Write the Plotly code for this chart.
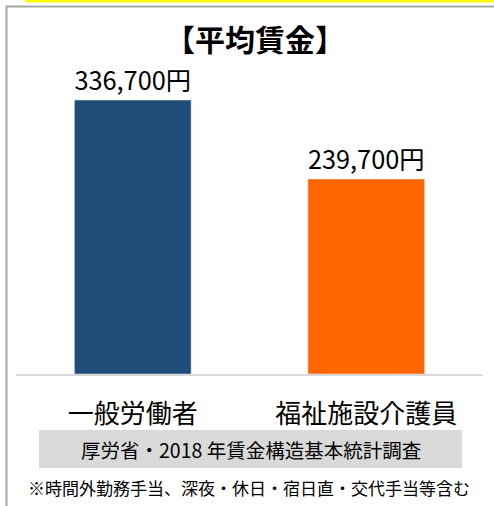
import plotly.graph_objects as go

categories = ["一般労働者", "福祉施設介護員"]
wages = [336700, 239700]
bar_colors = ["#1F4E79", "#FF6600"]
title_text = "【平均賃金】"
source_text = "厚労省・2018 年賃金構造基本統計調査"
note_text = "※時間外勤務手当、深夜・休日・宿日直・交代手当等含む"

W, H = 494, 506
FONT = "Noto Sans CJK JP"

def px(x):
    return x / W

def py(y):
    return 1 - y / H

labels = [f"{v:,}円" for v in wages]

fig = go.Figure(go.Bar(
    x=categories, y=wages, marker_color=bar_colors,
    text=labels, textposition="outside", cliponaxis=False,
    textfont=dict(size=26, color="#000000", family=FONT),
    width=0.5,
))

fig.update_layout(
    width=W, height=H,
    margin=dict(l=0, r=0, t=0, b=0),
    paper_bgcolor="white", plot_bgcolor="white",
    showlegend=False,
    font=dict(family=FONT, color="#000000"),
    xaxis=dict(domain=[px(16), px(483)], range=[-0.5, 1.5],
               showline=True, linecolor="#D9D9D9", linewidth=2,
               tickfont=dict(size=26, family=FONT, color="#000000"),
               ticklabelstandoff=16, showgrid=False, zeroline=False),
    yaxis=dict(domain=[py(374), py(60)], range=[0, 385850],
               visible=False, showgrid=False, zeroline=False),
    shapes=[
        dict(type="rect", xref="paper", yref="paper", x0=px(25), x1=px(494),
             y0=py(0), y1=py(2.5), fillcolor="#FFFF00", line=dict(width=0)),
        dict(type="line", xref="paper", yref="paper", x0=px(6), x1=px(494),
             y0=py(6.5), y1=py(6.5), line=dict(color="#A6A6A6", width=2)),
        dict(type="line", xref="paper", yref="paper", x0=px(6.5), x1=px(6.5),
             y0=py(6), y1=py(506), line=dict(color="#A6A6A6", width=2)),
        dict(type="rect", xref="paper", yref="paper", x0=px(39), x1=px(462),
             y0=py(468), y1=py(430), fillcolor="#D9D9D9", line=dict(width=0)),
    ],
    annotations=[
        dict(text=title_text, xref="paper", yref="paper", x=px(255), y=py(38),
             showarrow=False, font=dict(size=30, family=FONT, color="#000000", weight="bold"),
             xanchor="center", yanchor="middle"),
        dict(text=source_text, xref="paper", yref="paper", x=px(251), y=py(449),
             showarrow=False, font=dict(size=19.5, family=FONT, color="#000000"),
             xanchor="center", yanchor="middle"),
        dict(text=note_text, xref="paper", yref="paper", x=px(26), y=py(487),
             showarrow=False, font=dict(size=17, family=FONT, color="#000000"),
             xanchor="left", yanchor="middle"),
    ],
)

fig.write_html("out.html", config={"displayModeBar": False},
               post_script="document.body.style.margin='0';")
